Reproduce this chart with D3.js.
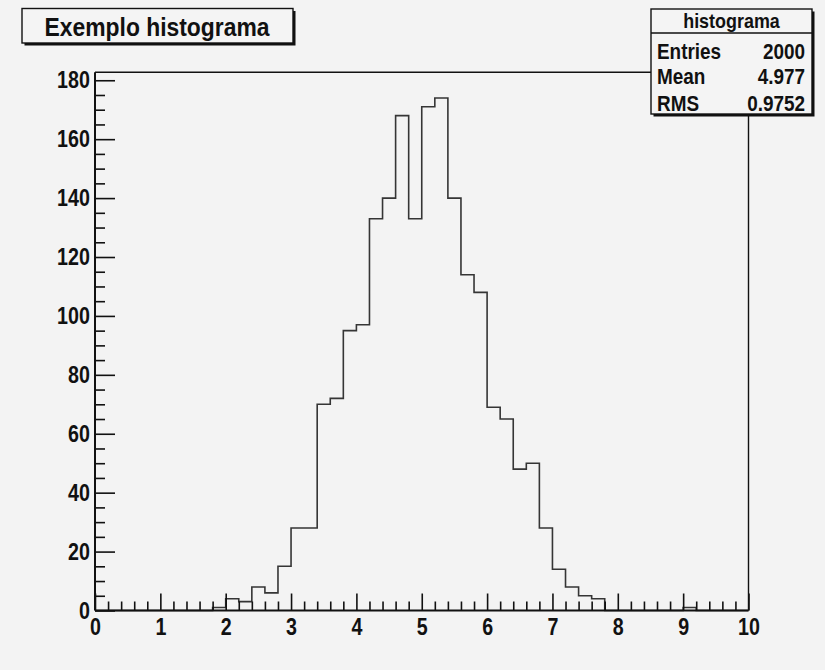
<!DOCTYPE html>
<html>
<head>
<meta charset="utf-8">
<script src="https://cdn.jsdelivr.net/npm/d3@7/dist/d3.min.js"></script>
<style>
  html, body { margin: 0; padding: 0; background: #f3f3f3; }
  svg { display: block; }
  text { font-family: "Liberation Sans", Arial, Helvetica, sans-serif; font-weight: bold; fill: #111; }
</style>
</head>
<body>
<svg id="chart" width="825" height="670"></svg>
<script>
// Histogram contents: 50 bins of width 0.2 over [0, 10]
const binEdgesMin = 0;
const binEdgesMax = 10;
const binCounts = [
  0, 0, 0, 0, 0, 0, 0, 0, 0, 1,      // 0.0 - 2.0
  4, 3, 8, 6, 15, 28, 28, 70, 72, 95, // 2.0 - 4.0
  97, 133, 140, 168, 133, 171, 174, 140, 114, 108, // 4.0 - 6.0
  69, 65, 48, 50, 28, 14, 8, 5, 4, 0, // 6.0 - 8.0
  0, 0, 0, 0, 0, 1, 0, 0, 0, 0        // 8.0 - 10.0
];
const xMajorTicks = [0, 1, 2, 3, 4, 5, 6, 7, 8, 9, 10];
const yMajorTicks = [0, 20, 40, 60, 80, 100, 120, 140, 160, 180];
const titleText = "Exemplo histograma";
const statsName = "histograma";
const statsLabels = ["Entries", "Mean", "RMS"];
const statsValues = ["2000", "4.977", "0.9752"];

const svg = d3.select("#chart");
const W = 825, H = 670;
svg.append("rect").attr("width", W).attr("height", H).attr("fill", "#f3f3f3");

const frame = { left: 95, right: 748.5, top: 72.3, bottom: 610.5 };
const nBins = binCounts.length;
const binWidth = (binEdgesMax - binEdgesMin) / nBins;
const yMax = d3.max(binCounts) * 1.05;

const x = d3.scaleLinear().domain([binEdgesMin, binEdgesMax]).range([frame.left, frame.right]);
const y = d3.scaleLinear().domain([0, yMax]).range([frame.bottom, frame.top]);

// Label glyphs are drawn slightly condensed
const labelSize = 24, labelSqueeze = 0.82;

// Frame (top and right edges)
svg.append("path")
  .attr("d", `M${frame.left},${frame.top}H${frame.right}V${frame.bottom}`)
  .attr("fill", "none").attr("stroke", "#111").attr("stroke-width", 1.4);

// Histogram outline as a step contour
const pts = [];
binCounts.forEach((c, i) => {
  const lo = binEdgesMin + i * binWidth, hi = lo + binWidth;
  pts.push([lo, c], [hi, c]);
});
const line = d3.line().x(d => x(d[0])).y(d => y(d[1]));
svg.append("path")
  .attr("d", line(pts))
  .attr("fill", "none").attr("stroke", "#353535").attr("stroke-width", 1.6);

// X axis: major and minor ticks pointing into the frame
const xMinor = d3.range(0, 50 + 1).map(i => i * 0.2).filter(v => Math.abs(v - Math.round(v)) > 1e-6);
const gx = svg.append("g").attr("transform", `translate(0,${frame.bottom})`);
gx.call(d3.axisBottom(x).tickValues(xMinor).tickSizeInner(-9).tickSizeOuter(0).tickFormat(""));
gx.call(g => g.select(".domain").remove());
const gxMaj = svg.append("g").attr("transform", `translate(0,${frame.bottom})`);
gxMaj.call(d3.axisBottom(x).tickValues(xMajorTicks).tickSizeInner(-17).tickSizeOuter(0).tickPadding(7).tickFormat(d3.format("d")));
gxMaj.select(".domain").remove();
[gx, gxMaj].forEach(g => g.selectAll(".tick line").attr("stroke", "#111").attr("stroke-width", 1.6));
gxMaj.selectAll(".tick text")
  .attr("font-size", labelSize).attr("font-family", null).attr("fill", "#111")
  .attr("transform", `scale(${labelSqueeze},1)`);
svg.append("line")
  .attr("x1", frame.left).attr("x2", frame.right)
  .attr("y1", frame.bottom).attr("y2", frame.bottom)
  .attr("stroke", "#111").attr("stroke-width", 2.2);

// Y axis: major every 20, minor every 5
const yMinor = d3.range(0, 181, 5).filter(v => v % 20 !== 0);
const gy = svg.append("g").attr("transform", `translate(${frame.left},0)`);
gy.call(d3.axisLeft(y).tickValues(yMinor).tickSizeInner(-10).tickSizeOuter(0).tickFormat(""));
gy.select(".domain").remove();
const gyMaj = svg.append("g").attr("transform", `translate(${frame.left},0)`);
gyMaj.call(d3.axisLeft(y).tickValues(yMajorTicks).tickSizeInner(-20).tickSizeOuter(0).tickPadding(6.2).tickFormat(d3.format("d")));
gyMaj.select(".domain").remove();
[gy, gyMaj].forEach(g => g.selectAll(".tick line").attr("stroke", "#111").attr("stroke-width", 1.6));
gyMaj.selectAll(".tick text")
  .attr("font-size", labelSize).attr("font-family", null).attr("fill", "#111")
  .attr("transform", `scale(${labelSqueeze},1)`);
svg.append("line")
  .attr("x1", frame.left).attr("x2", frame.left)
  .attr("y1", frame.top).attr("y2", frame.bottom)
  .attr("stroke", "#111").attr("stroke-width", 2);

// Boxed pave with a drop shadow
function pave(x0, y0, x1, y1) {
  svg.append("rect").attr("x", x0 + 2.5).attr("y", y0 + 2.5)
    .attr("width", x1 - x0).attr("height", y1 - y0).attr("fill", "#111");
  svg.append("rect").attr("x", x0).attr("y", y0)
    .attr("width", x1 - x0).attr("height", y1 - y0)
    .attr("fill", "#f4f4f4").attr("stroke", "#111").attr("stroke-width", 1.4);
}

// Title
pave(22, 8.5, 293, 43);
svg.append("text")
  .attr("transform", "translate(157,36) scale(0.88,1)")
  .attr("text-anchor", "middle").attr("font-size", 26)
  .text(titleText);

// Statistics box
const sb = { x0: 651, y0: 9, x1: 812, y1: 114 };
pave(sb.x0, sb.y0, sb.x1, sb.y1);
svg.append("line").attr("x1", sb.x0).attr("x2", sb.x1).attr("y1", 33).attr("y2", 33)
  .attr("stroke", "#111").attr("stroke-width", 1.4);
svg.append("text")
  .attr("transform", `translate(${(sb.x0 + sb.x1) / 2},28) scale(0.92,1)`)
  .attr("text-anchor", "middle").attr("font-size", 19.5)
  .text(statsName);
const rowBaselines = [58.5, 84, 110.5];
statsLabels.forEach((lab, i) => {
  svg.append("text")
    .attr("transform", `translate(657,${rowBaselines[i]}) scale(0.88,1)`)
    .attr("font-size", 21.5).text(lab);
  svg.append("text")
    .attr("transform", `translate(805,${rowBaselines[i]}) scale(0.88,1)`)
    .attr("text-anchor", "end").attr("font-size", 21.5).text(statsValues[i]);
});
</script>
</body>
</html>
